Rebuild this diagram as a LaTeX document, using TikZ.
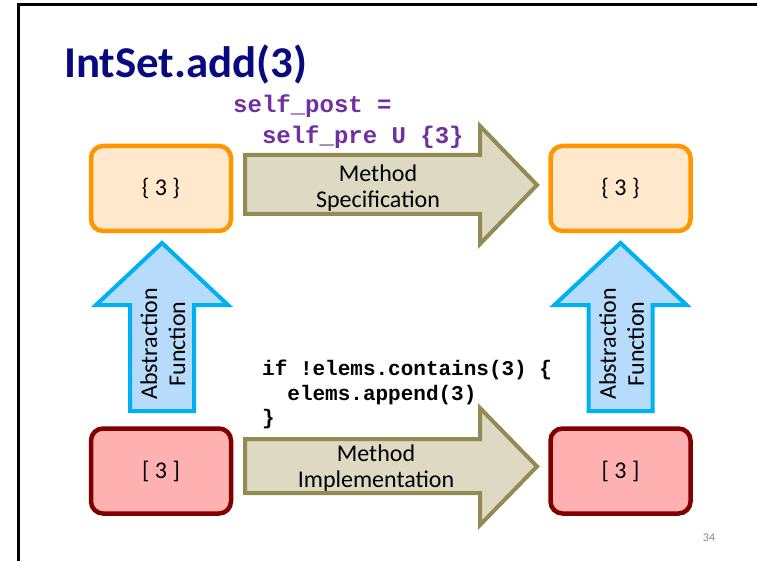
\documentclass[tikz,border=0pt]{standalone}
\usepackage{fontspec}
\setmainfont{Carlito}
\setmonofont{Liberation Mono}
\usepackage{xcolor}
\usepackage{tikz}

\definecolor{titleblue}{RGB}{10,10,128}
\definecolor{setedge}{RGB}{255,150,0}
\definecolor{setfill}{RGB}{255,232,204}
\definecolor{repedge}{RGB}{128,0,0}
\definecolor{repfill}{RGB}{255,176,176}
\definecolor{methedge}{RGB}{148,138,84}
\definecolor{methfill}{RGB}{221,217,195}
\definecolor{afedge}{RGB}{0,176,240}
\definecolor{affill}{RGB}{183,219,250}
\definecolor{specpurple}{RGB}{112,48,160}

\begin{document}
\begin{tikzpicture}[x=1pt, y=-1pt,
	setbox/.style={rectangle, rounded corners=12pt, draw=setedge, fill=setfill, line width=4.5pt, minimum width=140pt, minimum height=85pt, font=\fontsize{24}{26}\selectfont},
	repbox/.style={setbox, draw=repedge, fill=repfill},
	methodarrow/.style={draw=methedge, fill=methfill, line width=4pt},
	afarrow/.style={draw=afedge, fill=affill, line width=4pt},
	arrowtext/.style={align=center, inner sep=0pt, font=\fontsize{24}{26}\selectfont},
	codeline/.style={anchor=base west, inner sep=0pt, font=\ttfamily\bfseries\fontsize{21}{21}\selectfont},
	specline/.style={codeline, text=specpurple, font=\ttfamily\bfseries\fontsize{24}{24}\selectfont}]
	\useasboundingbox (0,0) rectangle (757,561);
	\draw[line width=3pt] (18,561) -- (18,5) -- (757,5);
	\node[anchor=base west, inner sep=0pt, text=titleblue, font=\bfseries\fontsize{44}{44}\selectfont, xscale=1.02] (title) at (64,78) {IntSet.add(3)};
	% states
	\node[setbox] (setpre) at (161,188.5) {\{ 3 \}};
	\node[setbox] (setpost) at (620.5,188.5) {\{ 3 \}};
	\node[repbox] (reppre) at (161,471) {[ 3 ]};
	\node[repbox] (reppost) at (620.5,471) {[ 3 ]};
	% method arrows
	\draw[methodarrow] (245,155) -- (480,155) -- (480,126) -- (537,185) -- (480,244) -- (480,214) -- (245,214) -- cycle;
	\node[arrowtext] (spec) at (378,188) {Method\\Specification};
	\draw[methodarrow] (245,439) -- (480,439) -- (480,408) -- (537,466.5) -- (480,525) -- (480,493) -- (245,493) -- cycle;
	\node[arrowtext] (impl) at (376,468) {Method\\Implementation};
	% abstraction function arrows
	\draw[afarrow] (130,411) -- (130,305) -- (96,305) -- (162,243) -- (228,305) -- (194,305) -- (194,411) -- cycle;
	\node[arrowtext, rotate=90, font=\fontsize{24}{28}\selectfont] (afleft) at (163,344) {Abstraction\\Function};
	\draw[afarrow] (588.5,411) -- (588.5,305) -- (554.5,305) -- (620.5,243) -- (686.5,305) -- (652.5,305) -- (652.5,411) -- cycle;
	\node[arrowtext, rotate=90, font=\fontsize{24}{28}\selectfont] (afright) at (621.5,344) {Abstraction\\Function};
	% code
	\node[specline] (post1) at (233,113) {self\_post =};
	\node[specline] (post2) at (233,144) {\phantom{se}self\_pre U \{3\}};
	\node[codeline] (code1) at (262,375) {if !elems.contains(3) \{};
	\node[codeline] (code2) at (262,400) {\phantom{if}elems.append(3)};
	\node[codeline] (code3) at (262,424) {\}};
	\node[text={rgb,255:red,140;green,140;blue,140}, font=\fontsize{12}{12}\selectfont] (pagenum) at (709,538) {34};
\end{tikzpicture}
\end{document}
